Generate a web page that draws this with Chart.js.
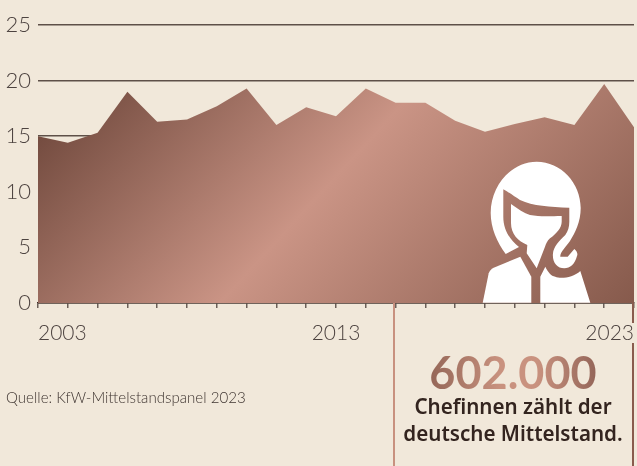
<!DOCTYPE html>
<html lang="de">
<head>
<meta charset="utf-8">
<title>Chefinnen im Mittelstand</title>
<script src="https://cdn.jsdelivr.net/npm/chart.js@4"></script>
<style>
    html, body { margin: 0; padding: 0; background: #f1e8da; }
    body { position: relative; width: 637px; height: 466px; overflow: hidden; font-family: Lato, sans-serif; }
    #chart { position: absolute; left: 0; top: 0; }
    #icon { position: absolute; left: 0; top: 0; }
    .rule { position: absolute; width: 2.4px; }
    #source { position: absolute; left: 6px; top: 388px; font-size: 15.1px; font-weight: 300; color: #3f3531; white-space: nowrap; }
    #big {
        position: absolute; left: 393px; width: 240px; top: 342px; text-align: center;
        font-size: 45px; line-height: 60px; font-weight: 700;
        background: linear-gradient(90deg, #7f5547 0%, #8f6253 12%, #c9927f 45%, #c9927f 60%, #96675a 84%);
        background-clip: text; -webkit-background-clip: text; color: transparent;
    }
    #note {
        position: absolute; left: 393px; width: 240px; top: 393px; text-align: center;
        font-family: "Noto Sans", sans-serif; font-size: 20.6px; line-height: 27px; font-weight: 600; color: #33241f;
    }
</style>
</head>
<body>
<canvas id="chart" width="637" height="466"></canvas>
<svg id="icon" width="637" height="466" fill="#fff">
    <path d="M505.7 254C497 242 490.7 228 490.7 213C490.7 185 512 161.7 536.7 161.7C561 161.7 580.7 183 580.7 208C580.7 222 575 233 570 241C566 247 560 252 560.3 256.7L567.7 256.7L574.3 249C577 251 578 254 577 256C575 264 570 268.3 564.3 268.3C557 268.3 552 262 553 253.3C553.5 247 559 241 565.3 235C568 231 569.3 227 569.3 221.7L569.3 207.7C550 207 533 206 520 200C515 197 510 193 503.3 189.3L503.3 216.7C503.3 230 510 240 519 247Z"/>
    <path d="M511 204C518 209 524 213 530 215C540 217 552 216 561.7 216L561.7 221.7C561.7 228 556 234 550 238.3C547 241 546 244 545 246.7L536.7 268.3L526.7 253.3L527.3 245C518 241 511 234 511 223Z"/>
    <path d="M520.3 256.7L493.7 267.7C491 269 489.5 271 488.7 273.3L482.7 302.7L531.3 302.7L531.3 276.7Z"/>
    <path d="M540.3 302.7L540.3 276.7L545.3 266.7C548 272 551 276 555.3 276.7C560 279 573 278 580.3 271L590.3 302.7Z"/>
</svg>
<div class="rule" style="left:393px;top:303px;height:163px;background:#c8917f"></div>
<div class="rule" style="left:632px;top:303px;height:20px;background:#8a5c4e"></div>
<div class="rule" style="left:632px;top:343px;height:123px;background:#8a5c4e"></div>
<div id="source">Quelle: KfW-Mittelstandspanel 2023</div>
<div id="big">602.000</div>
<div id="note">Chefinnen zählt der<br>deutsche Mittelstand.</div>

<script>
// Werte
const years = ['2003', '2004', '2005', '2006', '2007', '2008', '2009', '2010', '2011', '2012', '2013',
    '2014', '2015', '2016', '2017', '2018', '2019', '2020', '2021', '2022', '2023'];
const shares = [15.0, 14.4, 15.3, 19.0, 16.3, 16.5, 17.7, 19.3, 16.0, 17.6, 16.8,
    19.3, 18.0, 18.0, 16.4, 15.4, 16.1, 16.7, 16.0, 19.7, 15.8];
const yearLabels = ['2003', '2013', '2023'];
const valueTicks = [0, 5, 10, 15, 20, 25];

const textColor = '#4d4340';

// Diagonaler Verlauf der Fläche
function areaGradient(context) {
    const ctx = context.chart.ctx;
    const gradient = ctx.createLinearGradient(126, 36, 538, 415);
    gradient.addColorStop(0, '#734b3f');
    gradient.addColorStop(0.446, '#ca9485');
    gradient.addColorStop(1, '#85594b');
    return gradient;
}

new Chart(document.getElementById('chart'), {
    type: 'line',
    data: {
        labels: years,
        datasets: [{
            data: shares,
            fill: 'origin',
            backgroundColor: areaGradient,
            borderWidth: 0,
            pointRadius: 0,
            tension: 0
        }]
    },
    options: {
        responsive: false,
        animation: false,
        layout: { autoPadding: false, padding: { top: 25, right: 3, left: 0, bottom: 0 } },
        plugins: { legend: { display: false }, tooltip: { enabled: false } },
        scales: {
            x: {
                afterFit: scale => {
                    scale.height = 163;
                    scale.paddingLeft = 0;
                    scale.paddingRight = 0;
                },
                border: { color: '#3b2a26', width: 1.5 },
                grid: { drawOnChartArea: false, tickLength: 5, color: '#6b5f58', lineWidth: 1.5 },
                ticks: {
                    autoSkip: false,
                    maxRotation: 0,
                    align: 'inner',
                    padding: 13,
                    color: textColor,
                    font: { family: 'Lato', size: 21, weight: '300' },
                    callback: function(value) {
                        const label = this.getLabelForValue(value);
                        return yearLabels.includes(label) ? label : '';
                    }
                }
            },
            y: {
                min: 0,
                max: 25,
                afterFit: scale => { scale.width = 38; },
                afterBuildTicks: scale => { scale.ticks = valueTicks.map(v => ({ value: v })); },
                border: { display: false },
                grid: { drawTicks: false, color: '#5e5048', lineWidth: 1.5 },
                ticks: { padding: 7, color: textColor, font: { family: 'Lato', size: 22, weight: '300' } }
            }
        }
    }
});
</script>
</body>
</html>
